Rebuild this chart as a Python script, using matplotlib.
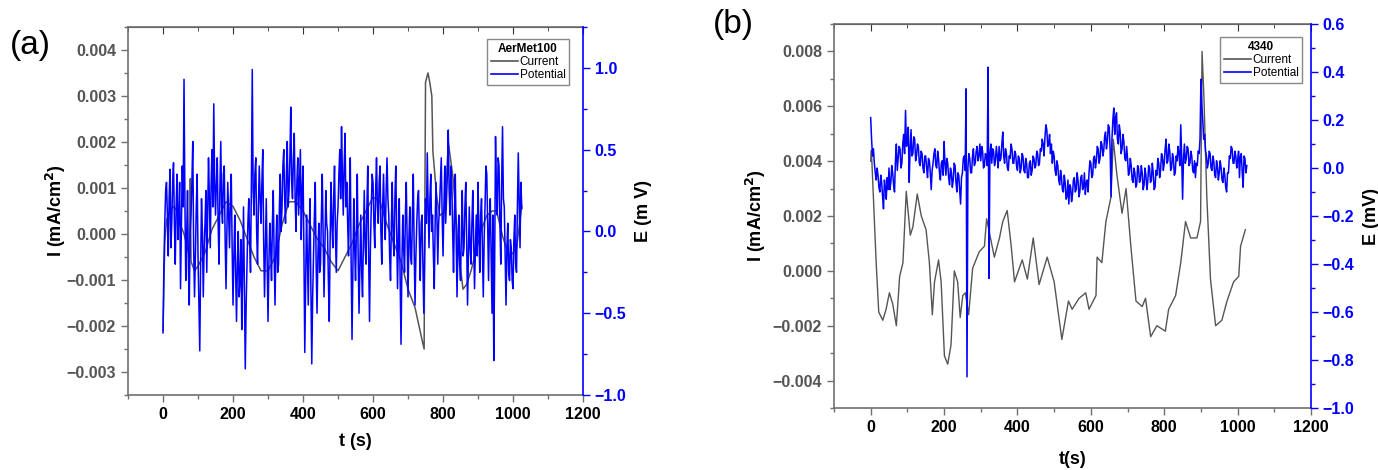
import matplotlib.pyplot as plt
from matplotlib.lines import Line2D
from matplotlib.ticker import MultipleLocator, FuncFormatter

plt.rcParams["font.family"] = ["Liberation Sans", "DejaVu Sans"]

# ---- panel (a): AerMet100 ----
t_cur_a = [0, 5, 10, 20, 30, 40, 50, 60, 70, 76,
           78, 80, 90, 100, 120, 140, 160, 180, 200, 220,
           240, 260, 280, 300, 320, 340, 360, 380, 400, 420,
           440, 460, 480, 500, 520, 540, 560, 580, 600, 620,
           640, 660, 680, 700, 720, 740, 746, 750, 757, 762,
           768, 771, 782, 791, 806, 815, 829, 843, 857, 867,
           880, 897, 910, 925, 940, 953, 972, 991, 1010, 1025]
i_cur_a = [-0.0021, -0.0002, 0.0003, 0.0005, 0.0006, 0.0005, 0.0002, 0.0000, -0.0003, -0.0005,
           0.0012, -0.0006, -0.0008, -0.0007, -0.0004, 0.0001, 0.0004, 0.0007, 0.0006, 0.0003,
           -0.0001, -0.0005, -0.0008, -0.0008, -0.0005, 0.0002, 0.0007, 0.0007, 0.0005, 0.0002,
           -0.0001, -0.0003, -0.0006, -0.0008, -0.0005, -0.0002, 0.0002, 0.0005, 0.0008, 0.0007,
           0.0002, -0.0002, -0.0006, -0.0012, -0.0016, -0.0023, -0.0025, 0.0033, 0.0035, 0.0033,
           0.0030, 0.0018, 0.0008, 0.0004, 0.0005, 0.0020, 0.0012, -0.0003, -0.0012, -0.0011,
           -0.0008, -0.0003, 0.0001, 0.0004, 0.0005, 0.0005, -0.0001, -0.0005, -0.0003, 0.0006]

# potential, one reading every 2.5 s
e_pot_a = [-0.62, -0.20, 0.05, 0.25, 0.30, 0.10, -0.15, 0.20, 0.38, -0.10,
           0.05, 0.30, 0.42, 0.05, -0.20, 0.15, 0.35, -0.05, 0.10, 0.30,
           -0.35, 0.05, 0.40, 0.15, 0.93, 0.20, -0.30, -0.05, 0.25, -0.20,
           -0.45, 0.00, 0.10, 0.30, 0.55, -0.10, -0.40, -0.15, 0.15, 0.35,
           -0.15, -0.45, -0.73, -0.20, 0.20, 0.00, -0.40, -0.10, 0.05, 0.25,
           -0.25, 0.10, 0.45, 0.20, -0.10, 0.30, 0.50, 0.15, 0.78, 0.30,
           0.10, 0.30, 0.45, 0.05, -0.20, 0.25, 0.55, 0.15, 0.05, 0.35,
           0.40, -0.05, -0.35, 0.00, 0.30, 0.10, -0.10, 0.20, 0.35, -0.10,
           -0.45, -0.15, 0.10, -0.25, -0.55, -0.20, 0.00, -0.40, -0.30, -0.05,
           -0.60, -0.25, 0.15, -0.35, -0.84, -0.45, -0.20, 0.05, 0.20, -0.05,
           -0.25, 0.30, 0.99, 0.25, 0.10, 0.35, 0.45, 0.00, -0.20, 0.15,
           0.40, 0.20, 0.05, 0.30, 0.50, -0.05, -0.40, -0.10, 0.20, -0.20,
           -0.55, -0.20, 0.05, -0.10, -0.30, 0.05, 0.25, -0.15, -0.45, -0.10,
           0.10, -0.25, -0.20, 0.15, 0.35, 0.00, 0.15, 0.40, 0.50, 0.20,
           0.05, 0.35, 0.55, 0.15, 0.25, 0.45, 0.76, 0.30, 0.20, 0.45,
           0.60, 0.20, 0.00, 0.30, 0.45, 0.10, 0.30, 0.50, -0.05, 0.25,
           0.40, -0.10, -0.74, -0.30, 0.10, -0.15, -0.45, -0.05, 0.20, -0.35,
           -0.81, -0.40, -0.15, 0.10, 0.30, -0.20, -0.50, -0.15, 0.05, -0.25,
           -0.20, 0.10, 0.35, -0.05, -0.40, -0.10, 0.25, 0.05, 0.00, -0.30,
           -0.55, -0.05, 0.30, 0.05, -0.10, 0.20, 0.40, 0.00, -0.25, 0.05,
           0.15, 0.35, 0.50, 0.20, 0.64, 0.35, 0.10, 0.40, 0.60, 0.15,
           0.30, 0.05, -0.15, 0.20, 0.45, -0.20, -0.66, -0.25, 0.20, -0.10,
           -0.30, 0.00, 0.35, -0.15, -0.50, -0.20, 0.10, -0.25, -0.40, -0.05,
           0.25, -0.10, -0.20, 0.15, 0.40, -0.15, -0.55, -0.10, 0.15, 0.35,
           0.30, 0.05, -0.10, 0.25, 0.45, 0.15, 0.05, 0.30, 0.40, 0.00,
           -0.20, 0.15, 0.35, 0.10, -0.05, 0.25, 0.45, 0.20, 0.10, -0.15,
           -0.30, 0.05, 0.30, -0.05, -0.15, 0.20, 0.40, 0.00, -0.35, -0.05,
           0.20, -0.30, -0.69, -0.20, 0.10, -0.10, -0.25, 0.10, 0.30, -0.05,
           -0.40, -0.05, 0.15, -0.15, -0.20, 0.10, 0.35, -0.10, -0.45, -0.15,
           0.05, 0.20, 0.25, -0.05, -0.30, 0.05, 0.10, -0.20, -0.50, -0.15,
           0.20, 0.05, 0.48, 0.15, -0.10, 0.20, 0.35, 0.00, 0.10, -0.15,
           -0.35, 0.05, 0.30, 0.10, -0.20, 0.05, 0.15, 0.30, 0.45, 0.10,
           -0.15, 0.15, 0.40, 0.05, 0.20, 0.35, 0.62, 0.25, 0.10, 0.40,
           0.30, 0.00, -0.25, 0.10, 0.35, -0.05, -0.40, -0.10, 0.10, -0.20,
           -0.30, 0.00, 0.25, -0.15, -0.10, 0.15, 0.30, -0.05, -0.45, -0.15,
           0.15, -0.10, -0.20, 0.05, 0.25, -0.05, -0.35, -0.10, 0.10, -0.15,
           0.30, 0.00, -0.25, 0.10, 0.20, -0.10, -0.40, -0.05, 0.15, 0.40,
           0.35, 0.05, -0.30, 0.05, 0.20, -0.15, -0.50, 0.10, -0.79, -0.20,
           0.58, 0.25, 0.10, 0.45, 0.40, 0.05, -0.20, 0.30, 0.64, 0.20,
           0.15, -0.15, -0.45, -0.10, 0.05, -0.25, -0.30, -0.05, -0.10, -0.30,
           -0.35, -0.05, 0.10, -0.20, -0.25, 0.15, 0.48, 0.20, -0.10, 0.30,
           0.14]
t_pot_a = [2.5 * k for k in range(len(e_pot_a))]

# ---- panel (b): 4340 ----
t_cur_b = [0, 2, 15, 22, 33, 42, 51, 60, 70, 79,
           88, 97, 108, 115, 127, 138, 151, 160, 168, 174,
           185, 192, 201, 210, 219, 228, 237, 244, 251, 258,
           267, 278, 296, 310, 316, 328, 337, 351, 360, 372,
           383, 392, 413, 427, 443, 459, 481, 500, 521, 539,
           549, 568, 586, 595, 614, 617, 630, 641, 655, 661,
           671, 685, 696, 709, 723, 740, 749, 763, 780, 803,
           812, 831, 845, 858, 872, 889, 899, 903, 908, 916,
           926, 940, 957, 971, 989, 1003, 1008, 1021]
i_cur_b = [0.0040, 0.0044, 0.0003, -0.0015, -0.0018, -0.0014, -0.0008, -0.0012, -0.0020, -0.0002,
           0.0003, 0.0029, 0.0013, 0.0016, 0.0028, 0.0020, 0.0015, 0.0003, -0.0016, -0.0004,
           0.0004, -0.0004, -0.0031, -0.0034, -0.0027, 0.0000, -0.0004, -0.0017, -0.0009, -0.0008,
           -0.0016, 0.0001, 0.0007, 0.0009, 0.0019, 0.0011, 0.0005, 0.0012, 0.0018, 0.0022,
           0.0009, -0.0004, 0.0004, -0.0003, 0.0012, -0.0005, 0.0005, -0.0004, -0.0025, -0.0011,
           -0.0014, -0.0010, -0.0008, -0.0014, -0.0009, 0.0005, 0.0003, 0.0018, 0.0027, 0.0048,
           0.0035, 0.0021, 0.0030, 0.0009, -0.0011, -0.0013, -0.0010, -0.0024, -0.0020, -0.0022,
           -0.0014, -0.0009, 0.0003, 0.0018, 0.0012, 0.0012, 0.0018, 0.0080, 0.0064, 0.0027,
           -0.0003, -0.0020, -0.0018, -0.0011, -0.0004, -0.0002, 0.0009, 0.0015]

# potential, one reading every 2.5 s
e_pot_b = [0.21, 0.12, 0.05, 0.08, 0.02, -0.02, -0.05, 0.00, -0.03, -0.08,
           -0.10, -0.03, -0.06, -0.12, -0.17, -0.05, -0.08, -0.13, -0.04, -0.09,
           0.00, -0.09, -0.06, 0.01, -0.02, -0.07, -0.10, 0.03, 0.10, -0.01,
           0.04, 0.09, 0.08, 0.00, 0.02, 0.10, 0.14, 0.06, 0.24, 0.09,
           0.10, 0.17, -0.06, 0.08, 0.16, 0.05, 0.06, 0.13, 0.12, 0.03,
           0.05, 0.10, 0.09, 0.02, 0.01, 0.07, 0.06, 0.00, -0.02, 0.05,
           0.05, 0.00, -0.04, 0.04, 0.03, -0.02, -0.09, -0.01, 0.02, 0.06,
           0.08, 0.01, 0.00, 0.07, 0.04, -0.02, -0.05, 0.02, 0.03, -0.03,
           0.11, 0.02, -0.03, 0.04, 0.02, -0.04, -0.07, 0.00, -0.02, -0.08,
           -0.05, 0.02, 0.01, -0.06, -0.10, -0.02, -0.03, -0.09, -0.15, -0.04,
           -0.02, 0.04, 0.05, -0.01, 0.33, -0.87, 0.00, 0.06, 0.04, -0.02,
           -0.02, 0.05, 0.08, 0.01, 0.02, 0.07, 0.09, 0.03, 0.05, 0.10,
           0.03, 0.09, 0.07, 0.00, 0.01, 0.06, 0.05, 0.01, 0.42, -0.46,
           0.06, 0.10, 0.02, 0.08, 0.07, 0.01, 0.03, 0.09, 0.05, 0.00,
           0.09, 0.03, 0.04, 0.10, 0.15, 0.05, 0.02, 0.08, 0.06, 0.00,
           -0.01, 0.05, 0.04, 0.10, 0.08, 0.02, 0.02, 0.07, 0.06, 0.01,
           -0.01, 0.05, 0.04, -0.02, 0.00, 0.06, 0.05, -0.01, -0.02, 0.04,
           0.02, -0.04, -0.04, 0.02, 0.03, -0.03, -0.01, 0.05, 0.04, 0.00,
           0.01, 0.07, 0.06, 0.01, 0.02, 0.08, 0.07, 0.12, 0.10, 0.05,
           0.13, 0.18, 0.16, 0.09, 0.10, 0.14, 0.06, 0.10, 0.02, 0.07,
           0.05, -0.01, -0.03, 0.03, 0.01, -0.05, -0.07, -0.01, -0.04, -0.09,
           -0.10, -0.03, -0.06, -0.13, -0.12, -0.05, -0.15, -0.07, -0.08, -0.14,
           -0.11, -0.05, -0.04, -0.10, -0.09, -0.02, -0.05, -0.12, -0.10, -0.04,
           -0.03, -0.09, -0.08, -0.02, -0.11, -0.06, -0.05, -0.10, -0.02, 0.03,
           0.02, -0.04, -0.03, 0.04, 0.05, 0.00, 0.03, 0.09, 0.08, 0.02,
           0.04, 0.11, 0.10, 0.05, 0.07, 0.13, 0.15, 0.08, 0.11, 0.18,
           0.17, 0.08, -0.12, 0.12, 0.20, 0.25, 0.14, 0.21, 0.23, 0.12,
           0.10, 0.18, 0.15, 0.06, 0.08, 0.14, 0.11, 0.04, 0.03, 0.09,
           0.04, -0.03, -0.02, 0.04, 0.01, -0.05, -0.06, 0.00, -0.02, -0.08,
           -0.07, 0.01, 0.00, -0.06, -0.05, 0.01, -0.02, -0.09, -0.07, 0.00,
           -0.03, -0.09, -0.06, 0.01, 0.00, -0.06, -0.05, 0.02, -0.02, -0.09,
           -0.08, -0.01, -0.03, 0.04, 0.02, -0.04, -0.01, 0.06, 0.05, -0.01,
           0.02, 0.08, 0.12, 0.02, 0.03, 0.10, 0.07, -0.01, 0.00, 0.06,
           0.04, -0.03, -0.02, 0.05, 0.03, 0.09, 0.06, 0.01, 0.18, 0.05,
           -0.13, 0.04, 0.10, 0.02, 0.04, 0.09, 0.08, 0.01, 0.02, 0.07,
           0.05, -0.01, -0.02, 0.03, -0.04, 0.02, 0.01, 0.07, 0.06, 0.12,
           0.37, 0.26, 0.20, 0.12, 0.14, 0.07, 0.05, 0.00, 0.02, 0.07,
           0.06, 0.00, -0.01, 0.05, 0.03, -0.03, -0.04, 0.03, 0.01, -0.05,
           -0.02, 0.03, 0.00, -0.05, -0.06, 0.00, -0.03, -0.08, -0.10, -0.02,
           -0.02, 0.05, 0.04, 0.09, 0.08, 0.02, 0.02, 0.07, 0.05, 0.00,
           0.03, 0.07, -0.04, 0.05, 0.06, -0.02, -0.08, 0.05, 0.04, -0.02,
           0.01]
t_pot_b = [2.5 * k for k in range(len(e_pot_b))]

GRAY = "#555555"
BLUE = "#0000ff"
AXGRAY = "#707070"


def signed(fmt):
    def f(v, pos):
        if abs(v) < 1e-12:
            v = 0.0
        return (fmt % v).replace("-", "\u2212")
    return FuncFormatter(f)


def setup_panel(ax, ax2, i_lim, i_step, e_lim, e_step, xlabel, elabel, xlabelpad, ilabelpad):
    ax.set_xlim(-100, 1200)
    ax.xaxis.set_major_locator(MultipleLocator(200))
    ax.xaxis.set_minor_locator(MultipleLocator(100))
    ax.set_ylim(*i_lim)
    ax.yaxis.set_major_locator(MultipleLocator(i_step))
    ax.yaxis.set_minor_locator(MultipleLocator(i_step / 2))
    ax.yaxis.set_major_formatter(signed("%.3f"))
    ax.tick_params(axis="x", which="both", direction="out", colors=AXGRAY, labelcolor="black",
                   labelsize=11.5)
    ax.tick_params(axis="y", which="both", direction="out", colors=AXGRAY, labelcolor="#555555",
                   labelsize=11.5)
    ax.tick_params(which="major", length=5, width=1)
    ax.tick_params(which="minor", length=3, width=1)
    for lab in ax.get_xticklabels() + ax.get_yticklabels():
        lab.set_fontweight("bold")
    for side in ("left", "bottom", "top"):
        ax.spines[side].set_color(AXGRAY)
        ax.spines[side].set_linewidth(1.2)
    ax.spines["right"].set_visible(False)

    top = ax.secondary_xaxis("top")
    top.xaxis.set_major_locator(MultipleLocator(200))
    top.xaxis.set_minor_locator(MultipleLocator(100))
    top.tick_params(axis="x", which="both", direction="in", labeltop=False, colors="#333333")
    top.tick_params(which="major", length=5)
    top.tick_params(which="minor", length=3)
    top.spines["top"].set_color("#333333")

    ax.set_xlabel(xlabel, fontsize=13, fontweight="bold", labelpad=xlabelpad)
    ax.set_ylabel("I (mA/cm$^\\mathbf{2}$)", fontsize=13, fontweight="bold", labelpad=ilabelpad)

    ax2.set_ylim(*e_lim)
    ax2.yaxis.set_major_locator(MultipleLocator(e_step))
    ax2.yaxis.set_minor_locator(MultipleLocator(e_step / 2))
    ax2.yaxis.set_major_formatter(signed("%.1f"))
    ax2.tick_params(axis="y", which="both", direction="out", colors=BLUE, labelsize=11.5)
    ax2.tick_params(which="major", length=5, width=1)
    ax2.tick_params(which="minor", length=3, width=1)
    for lab in ax2.get_yticklabels():
        lab.set_fontweight("bold")
    for side in ("left", "bottom", "top"):
        ax2.spines[side].set_visible(False)
    ax2.spines["right"].set_color(BLUE)
    ax2.spines["right"].set_linewidth(1.2)
    ax2.set_ylabel(elabel, fontsize=13, fontweight="bold", labelpad=6)


def add_legend(ax, title, anchor):
    handles = [Line2D([], [], color=GRAY, lw=1.2), Line2D([], [], color=BLUE, lw=1.2)]
    leg = ax.legend(handles, ["Current", "Potential"], title=title, loc="upper right",
                    bbox_to_anchor=anchor, fontsize=8.5, title_fontsize=8.5,
                    fancybox=False, edgecolor="#888888", framealpha=1, borderpad=0.3,
                    handlelength=2.3, handletextpad=0.15, labelspacing=0.1, borderaxespad=0)
    leg.get_title().set_fontweight("bold")


fig = plt.figure(figsize=(13.78, 4.70), dpi=100)

# (a)
ax_a = fig.add_axes([0.0929, 0.1596, 0.3302, 0.7830])
ax_a2 = ax_a.twinx()
ax_a.plot(t_cur_a, i_cur_a, color=GRAY, lw=1.1)
ax_a2.plot(t_pot_a, e_pot_a, color=BLUE, lw=1.1)
setup_panel(ax_a, ax_a2, (-0.0035, 0.0045), 0.001, (-1.0, 1.25), 0.5,
            "t (s)", "E (m V)", 8, -1)
add_legend(ax_a2, "AerMet100", (0.969, 0.967))

# (b)
ax_b = fig.add_axes([0.6052, 0.1319, 0.3462, 0.8170])
ax_b2 = ax_b.twinx()
ax_b.plot(t_cur_b, i_cur_b, color=GRAY, lw=1.0)
ax_b2.plot(t_pot_b, e_pot_b, color=BLUE, lw=1.1)
setup_panel(ax_b, ax_b2, (-0.005, 0.009), 0.002, (-1.0, 0.6), 0.2,
            "t(s)", "E (mV)", 12, 3)
add_legend(ax_b2, "4340", (0.981, 0.966))

fig.text(0.0218, 0.904, "(a)", fontsize=24, ha="center", va="center")
fig.text(0.532, 0.947, "(b)", fontsize=24, ha="center", va="center")

fig.savefig("out.png", dpi=100)
